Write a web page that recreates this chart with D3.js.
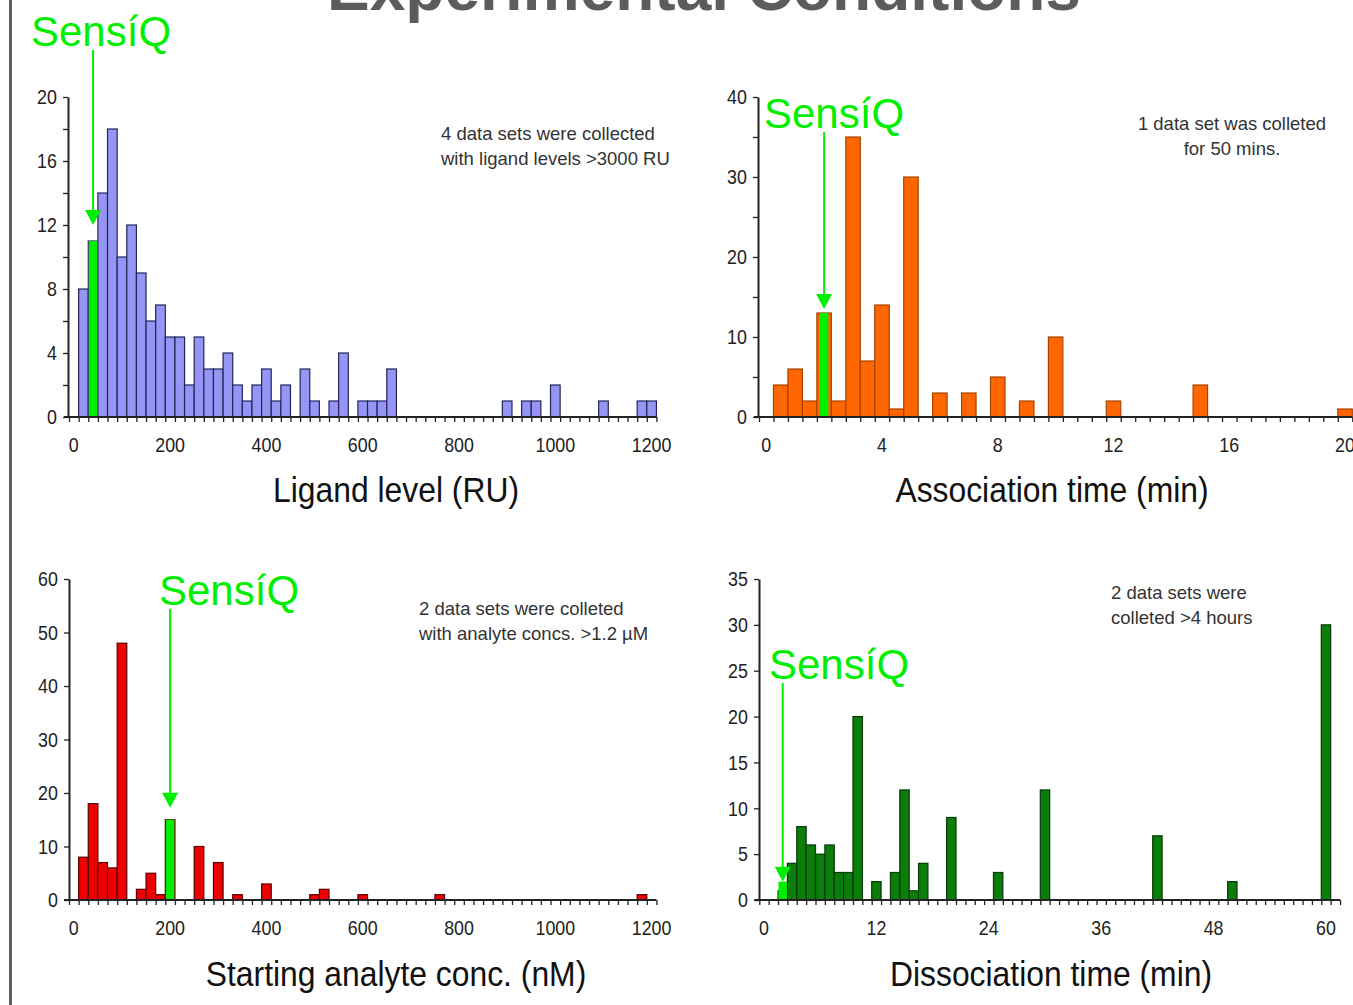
<!DOCTYPE html>
<html>
<head>
<meta charset="utf-8">
<script src="https://cdn.jsdelivr.net/npm/d3@7"></script>
<style>
  body { margin: 0; background: #ffffff; }
  text { font-family: "Liberation Sans", Arial, sans-serif; }
</style>
</head>
<body>
<div class="container"></div>
<script>
// ---- data ----
// ligand level categories (RU), bins of 20
var ligandCats = d3.range(0, 1201, 20);
var ligandCounts = [0, 8, 11, 14, 18, 10, 12, 9, 6, 7,
                    5, 5, 2, 5, 3, 3, 4, 2, 1, 2,
                    3, 1, 2, 0, 3, 1, 0, 1, 4, 0,
                    1, 1, 1, 3, 0, 0, 0, 0, 0, 0,
                    0, 0, 0, 0, 0, 1, 0, 1, 1, 0,
                    2, 0, 0, 0, 0, 1, 0, 0, 0, 1,
                    1];
var ligandXLabels = [0, 200, 400, 600, 800, 1000, 1200];
var ligandYTicks = [0, 2, 4, 6, 8, 10, 12, 14, 16, 18, 20];
var ligandYLabels = [0, 4, 8, 12, 16, 20];

// association time categories (min), bins of 0.5
var assocCats = d3.range(0, 20.01, 0.5);
var assocCounts = [0, 4, 6, 2, 13, 2, 35, 7, 14, 1,
                   30, 0, 3, 0, 3, 0, 5, 0, 2, 0,
                   10, 0, 0, 0, 2, 0, 0, 0, 0, 0,
                   4, 0, 0, 0, 0, 0, 0, 0, 0, 0,
                   1];
var assocXLabels = [0, 4, 8, 12, 16, 20];
var assocYTicks = [0, 5, 10, 15, 20, 25, 30, 35, 40];
var assocYLabels = [0, 10, 20, 30, 40];

// starting analyte conc. categories (nM), bins of 20
var analyteCats = d3.range(0, 1201, 20);
var analyteCounts = [0, 8, 18, 7, 6, 48, 0, 2, 5, 1,
                     15, 0, 0, 10, 0, 7, 0, 1, 0, 0,
                     3, 0, 0, 0, 0, 1, 2, 0, 0, 0,
                     1, 0, 0, 0, 0, 0, 0, 0, 1, 0,
                     0, 0, 0, 0, 0, 0, 0, 0, 0, 0,
                     0, 0, 0, 0, 0, 0, 0, 0, 0, 1,
                     0];
var analyteXLabels = [0, 200, 400, 600, 800, 1000, 1200];
var analyteYTicks = [0, 10, 20, 30, 40, 50, 60];
var analyteYLabels = [0, 10, 20, 30, 40, 50, 60];

// dissociation time categories (min), bins of 1
var dissocCats = d3.range(0, 62, 1);
var dissocCounts = [0, 0, 1, 4, 8, 6, 5, 6, 3, 3,
                    20, 0, 2, 0, 3, 12, 1, 4, 0, 0,
                    9, 0, 0, 0, 0, 3, 0, 0, 0, 0,
                    12, 0, 0, 0, 0, 0, 0, 0, 0, 0,
                    0, 0, 7, 0, 0, 0, 0, 0, 0, 0,
                    2, 0, 0, 0, 0, 0, 0, 0, 0, 0,
                    30, 0];
var dissocXLabels = [0, 12, 24, 36, 48, 60];
var dissocYTicks = [0, 5, 10, 15, 20, 25, 30, 35];
var dissocYLabels = [0, 5, 10, 15, 20, 25, 30, 35];

// SensiQ values: [category, count]
var sensiqLigand = [40, 11];
var sensiqAssoc = [2, 13];
var sensiqAnalyte = [200, 15];
var sensiqDissoc = [2, 2];

// ---- drawing ----
const width = 1353, height = 1005;
const narrow = "scale(0.85,1)";
const titleNarrow = "scale(0.91,1)";

const svg = d3.select(".container")
              .append("svg")
              .attr("width", width)
              .attr("height", height);

// left border strip
svg.append("rect")
   .attr("x", 9)
   .attr("y", 0)
   .attr("width", 3)
   .attr("height", height)
   .attr("fill", "#5e5e5e");

// cut off title at the very top
svg.append("text")
   .attr("x", 704)
   .attr("y", 10)
   .attr("text-anchor", "middle")
   .attr("font-size", 64)
   .attr("font-weight", "bold")
   .attr("fill", "#5c5c5c")
   .text("Experimental Conditions");

// this function draws one histogram panel
function histogram(p) {
    var g = svg.append("g");

    // category scale for the bars
    var xScale = d3.scaleBand()
                   .domain(p.cats)
                   .range([p.x0, p.x0 + p.cats.length * p.bw])
                   .padding(0);

    // index scale, used for the boundary ticks
    var xIndex = d3.scaleLinear()
                   .domain([0, p.cats.length])
                   .range([p.x0, p.x0 + p.cats.length * p.bw]);

    var yScale = d3.scaleLinear()
                   .domain([0, p.yMax])
                   .range([p.bottom, p.top]);

    var rows = p.cats.map(function(c, i) { return {cat: c, n: p.counts[i]}; });

    // bars
    g.selectAll(".bar")
     .data(rows.filter(function(d) { return d.n > 0; }))
     .enter()
     .append("rect")
     .attr("class", "bar")
     .attr("x", function(d) { return xScale(d.cat); })
     .attr("y", function(d) { return yScale(d.n); })
     .attr("width", xScale.bandwidth())
     .attr("height", function(d) { return p.bottom - yScale(d.n); })
     .attr("fill", p.fill)
     .attr("stroke", p.stroke)
     .attr("stroke-width", 1.2);

    // SensiQ bar
    var gw = Math.min(xScale.bandwidth(), 8.5);
    var gx = xScale(p.sensiq[0]) + xScale.bandwidth() / 2;
    g.append("rect")
     .attr("x", gx - gw / 2)
     .attr("y", yScale(p.sensiq[1]))
     .attr("width", gw)
     .attr("height", p.bottom - yScale(p.sensiq[1]))
     .attr("fill", "#00ee00");

    // x axis, ticks on every category boundary
    var xAxis = d3.axisBottom(xIndex)
                  .tickValues(d3.range(p.cats.length + 1))
                  .tickFormat("")
                  .tickSize(5)
                  .tickSizeOuter(0);
    var xa = g.append("g")
              .attr("transform", "translate(0," + p.bottom + ")")
              .call(xAxis);
    xa.select(".domain").remove();
    xa.selectAll("line").attr("stroke", "#222").attr("stroke-width", 1.3);
    g.append("line")
     .attr("x1", p.x0 - 5)
     .attr("x2", xIndex(p.cats.length))
     .attr("y1", p.bottom)
     .attr("y2", p.bottom)
     .attr("stroke", "#222")
     .attr("stroke-width", 2);

    // x labels at category centres
    g.selectAll(".xlab")
     .data(p.xLabels)
     .enter()
     .append("text")
     .attr("class", "xlab")
     .attr("transform", function(d) {
         return "translate(" + (xScale(d) + xScale.bandwidth() / 2) + "," + (p.bottom + 35) + ") " + narrow;
     })
     .attr("text-anchor", "middle")
     .attr("font-size", 21)
     .attr("fill", "#222")
     .text(function(d) { return d; });

    // y axis
    var yAxis = d3.axisLeft(yScale)
                  .tickValues(p.yTicks)
                  .tickFormat(function(d) { return p.yLabels.indexOf(d) >= 0 ? d : ""; })
                  .tickSize(5)
                  .tickSizeOuter(0)
                  .tickPadding(8);
    var ya = g.append("g")
              .attr("transform", "translate(" + p.yx + ",0)")
              .call(yAxis);
    ya.select(".domain").attr("stroke", "#222").attr("stroke-width", 2);
    ya.selectAll("line").attr("stroke", "#222").attr("stroke-width", 1.3);
    ya.selectAll("text")
      .attr("font-size", 21)
      .attr("fill", "#222")
      .attr("transform", narrow)
      .style("font-family", "Liberation Sans, Arial, sans-serif");

    // axis title
    g.append("text")
     .attr("transform", "translate(" + p.titleX + "," + p.titleY + ") " + titleNarrow)
     .attr("text-anchor", "middle")
     .attr("font-size", 35)
     .attr("fill", "#111")
     .text(p.title);

    // note
    g.selectAll(".note")
     .data(p.note)
     .enter()
     .append("text")
     .attr("class", "note")
     .attr("x", p.noteX)
     .attr("y", function(d, i) { return p.noteY + i * 25; })
     .attr("text-anchor", p.noteAnchor)
     .attr("font-size", 18.5)
     .attr("fill", "#333")
     .text(function(d) { return d; });

    // SensiQ label and arrow
    g.append("text")
     .attr("x", p.labelX)
     .attr("y", p.labelY)
     .attr("font-size", 42)
     .attr("fill", "#00ee00")
     .text("SensíQ");

    var tip = yScale(p.sensiq[1]) - p.gap;
    g.append("line")
     .attr("x1", gx)
     .attr("x2", gx)
     .attr("y1", p.labelY + 4)
     .attr("y2", tip - 12)
     .attr("stroke", "#00ee00")
     .attr("stroke-width", 2);
    g.append("path")
     .attr("d", "M" + (gx - 8) + "," + (tip - 15) + "L" + (gx + 8) + "," + (tip - 15) + "L" + gx + "," + tip + "Z")
     .attr("fill", "#00ee00");
}

histogram({cats: ligandCats, counts: ligandCounts, x0: 69, bw: 9.63, yx: 68,
           yMax: 20, bottom: 417, top: 97, yTicks: ligandYTicks, yLabels: ligandYLabels,
           xLabels: ligandXLabels, fill: "#9595f5", stroke: "#24245a",
           sensiq: sensiqLigand, gap: 16, labelX: 31, labelY: 46,
           title: "Ligand level (RU)", titleX: 396, titleY: 502,
           note: ["4 data sets were collected", "with ligand levels >3000 RU"],
           noteX: 441, noteY: 140, noteAnchor: "start"});

histogram({cats: assocCats, counts: assocCounts, x0: 759, bw: 14.47, yx: 758,
           yMax: 40, bottom: 417, top: 97, yTicks: assocYTicks, yLabels: assocYLabels,
           xLabels: assocXLabels, fill: "#ff6600", stroke: "#a84200",
           sensiq: sensiqAssoc, gap: 4, labelX: 764, labelY: 128,
           title: "Association time (min)", titleX: 1052, titleY: 502,
           note: ["1 data set was colleted", "for 50 mins."],
           noteX: 1232, noteY: 130, noteAnchor: "middle"});

histogram({cats: analyteCats, counts: analyteCounts, x0: 69, bw: 9.63, yx: 69,
           yMax: 60, bottom: 900, top: 579, yTicks: analyteYTicks, yLabels: analyteYLabels,
           xLabels: analyteXLabels, fill: "#ee0000", stroke: "#5a0000",
           sensiq: sensiqAnalyte, gap: 12, labelX: 159, labelY: 605,
           title: "Starting analyte conc. (nM)", titleX: 396, titleY: 986,
           note: ["2 data sets were colleted", "with analyte concs. >1.2 \u00b5M"],
           noteX: 419, noteY: 615, noteAnchor: "start"});

histogram({cats: dissocCats, counts: dissocCounts, x0: 759.3, bw: 9.367, yx: 759,
           yMax: 35, bottom: 900, top: 579, yTicks: dissocYTicks, yLabels: dissocYLabels,
           xLabels: dissocXLabels, fill: "#0b7d0b", stroke: "#053a05",
           sensiq: sensiqDissoc, gap: 0, labelX: 769, labelY: 679,
           title: "Dissociation time (min)", titleX: 1051, titleY: 986,
           note: ["2 data sets were", "colleted >4 hours"],
           noteX: 1111, noteY: 599, noteAnchor: "start"});
</script>
</body>
</html>
